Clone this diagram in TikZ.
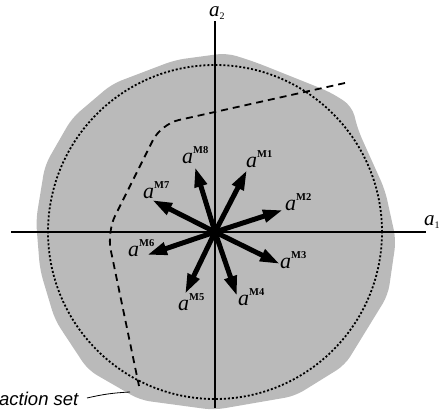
\documentclass[tikz,border=0pt]{standalone}
\usepackage{fontspec}
\setmainfont{Liberation Serif}
\newfontfamily\labsans{Liberation Sans}
\usetikzlibrary{arrows.meta}
\newcommand{\avec}[1]{{\fontsize{22}{22}\selectfont\itshape a}\raisebox{9.5pt}{\fontsize{10.5}{10.5}\selectfont\bfseries #1}}
\tikzset{
  region/.style={fill=black!27, draw=none, rounded corners=10pt},
  axis/.style={line width=1.7pt},
  bound/.style={line width=1.8pt, dash pattern=on 2pt off 2pt},
  fencepath/.style={line width=1.8pt, dash pattern=on 7pt off 5pt, rounded corners=18pt},
  vec/.style={line width=5pt, -{Triangle[length=20pt,width=12pt]}},
  veclab/.style={anchor=base west, inner sep=0pt},
  axlab/.style={anchor=base west, inner sep=0pt, font=\fontsize{21}{21}\selectfont\itshape}
}
\begin{document}
\begin{tikzpicture}[x=1pt,y=-1pt]
\useasboundingbox (0,0) rectangle (441,412);
% shaded region
\path[region] (227,53) -- (255,62) -- (330,92) -- (352,106) -- (358,130) -- (385,190)
  -- (396,240) -- (388,295) -- (345,365) -- (295,396) -- (214,410) -- (140,400)
  -- (88,370) -- (55,320) -- (40,270) -- (36,220) -- (45,165) -- (72,118)
  -- (112,84) -- (175,60) -- cycle;
% dotted boundary
\coordinate (O) at (215,232);
\draw[bound] (O) circle[radius=167pt];
% dashed line
\coordinate (d1) at (345,83);
\coordinate (d2) at (161,124);
\coordinate (d3) at (107,232);
\coordinate (d4) at (139,386);
\draw[fencepath] (d1) -- (d2) -- (d3) -- (d4);
% axes
\coordinate (xl) at (11,232);
\coordinate (xr) at (426,232);
\coordinate (yt) at (215,21);
\coordinate (yb) at (215,408);
\draw[axis] (xl) -- (xr);
\draw[axis] (yb) -- (yt);
\node[axlab] (a1) at (424,225) {a\raisebox{-3pt}{\fontsize{10}{10}\selectfont\upshape 1}};
\node[axlab] (a2) at (209,17) {a\raisebox{-3pt}{\fontsize{10}{10}\selectfont\upshape 2}};
% vectors
\coordinate (t1) at (247,170);
\coordinate (t2) at (283,210);
\coordinate (t3) at (280,264);
\coordinate (t4) at (237,296);
\coordinate (t5) at (185,294);
\coordinate (t6) at (147,255);
\coordinate (t7) at (152,200);
\coordinate (t8) at (195,167);
\foreach \i in {1,...,8} { \draw[vec] (O) -- (t\i); }
\node[veclab] (l1) at (246,167) {\avec{M1}};
\node[veclab] (l2) at (285,210) {\avec{M2}};
\node[veclab] (l3) at (280,268) {\avec{M3}};
\node[veclab] (l4) at (238,305) {\avec{M4}};
\node[veclab] (l5) at (178,310) {\avec{M5}};
\node[veclab] (l6) at (128,256) {\avec{M6}};
\node[veclab] (l7) at (143,198) {\avec{M7}};
\node[veclab] (l8) at (182,163) {\avec{M8}};
% action set label
\node[anchor=base west, inner sep=0pt, font=\labsans\itshape\fontsize{18.5}{18.5}\selectfont] (as) at (-1,405) {action set};
\coordinate (asend) at (130,392);
\draw[line width=0.8pt] (87,398) to[bend left=5] (asend);
\end{tikzpicture}
\end{document}
